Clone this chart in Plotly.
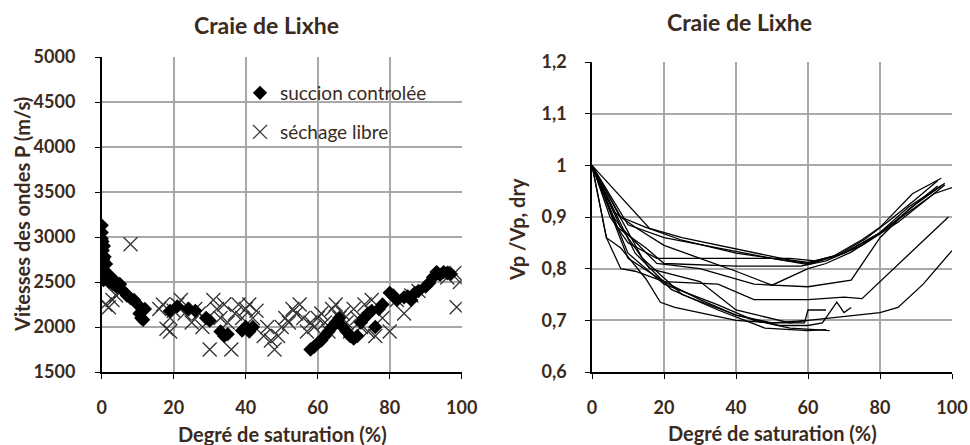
import plotly.graph_objects as go

# --- left chart: P-wave velocity vs degree of saturation ---
succion_x = [0, 0, 0, 0, 0, 0, 0, 0, 0, 0, 0.2, 0.3, 0.3, 0.4, 0.5, 0.5, 0.6, 0.7, 0.8, 1,
             1.2, 1.5, 2, 2.5, 3, 3.5, 4, 5, 6, 7, 8, 9, 10, 10.5, 11, 11.5, 12,
             19, 21, 24, 26, 29, 30, 33, 34, 35, 39, 40, 41, 42,
             58, 59, 60, 61, 62, 63, 64, 65, 66, 67, 68, 69, 70, 71, 72, 73, 74, 75, 76, 77, 78,
             80, 81, 82, 84, 85, 86, 87, 88, 90, 91, 92, 93, 94, 95, 96, 97]
succion_v = [3130, 3050, 2980, 2900, 2850, 2800, 2750, 2700, 2650, 2600, 2950, 2850, 2550, 2750,
             2680, 2520, 2900, 2600, 2780, 2550, 2700, 2600, 2500, 2550, 2480, 2520, 2450, 2480,
             2400, 2350, 2320, 2300, 2250, 2150, 2100, 2080, 2200,
             2180, 2230, 2200, 2180, 2100, 2070, 1950, 1900, 1920, 1960, 2000, 1950, 2000,
             1750, 1780, 1820, 1850, 1900, 1950, 2000, 2050, 2100, 2000, 1950, 1900, 1870, 1900,
             2050, 2100, 2150, 2180, 2000, 2200, 2250,
             2380, 2350, 2300, 2330, 2340, 2300, 2380, 2400, 2450, 2490, 2550, 2610, 2580, 2610,
             2600, 2590]

libre_x = [1, 2, 3, 4, 5, 8,
           16, 17, 18, 19, 19, 20, 21, 22, 23, 25, 26, 27, 28, 30, 31, 32, 33, 34, 35, 36, 37,
           38, 39, 40, 41, 42, 43, 45, 46, 47, 48, 49, 50, 51, 52, 53, 54, 55, 56, 57, 58, 59,
           60, 61, 62, 63, 64, 65, 66, 67, 68, 69, 70, 71, 72, 73, 74, 75, 76, 78, 80, 82, 84,
           86, 88, 95, 96, 98, 98.6, 99.5]
libre_v = [2250, 2220, 2300, 2350, 2400, 2920,
           2200, 2250, 1980, 1950, 2100, 2180, 2250, 2300, 2150, 2050, 2200, 2150, 2000, 1750,
           2300, 2200, 2100, 2250, 2050, 1750, 2150, 2250, 2100, 2200, 2250, 2100, 2180, 1900,
           2000, 1850, 1750, 1900, 2000, 2100, 2050, 2200, 2150, 2250, 2100, 1950, 2050, 2000,
           2100, 2150, 2050, 1950, 2200, 2250, 2100, 2150, 2050, 1950, 2200, 2100, 2000, 2250,
           1950, 2300, 1900, 2100, 1950, 2300, 2150, 2350, 2400, 2600, 2550, 2600, 2220, 2500]

# --- right chart: normalised velocity curves Vp / Vp,dry ---
curves = [
    ([0, 16, 25, 40, 54, 60, 67, 75, 80, 89, 97],
     [1, 0.878, 0.86, 0.838, 0.818, 0.812, 0.824, 0.856, 0.88, 0.945, 0.975]),
    ([0, 8, 15, 25, 40, 50, 60, 68, 76, 82, 90, 96],
     [1, 0.9, 0.88, 0.855, 0.83, 0.82, 0.808, 0.825, 0.858, 0.89, 0.935, 0.97]),
    ([0, 10, 20, 35, 50, 60, 70, 80, 88, 98],
     [1, 0.885, 0.86, 0.84, 0.82, 0.81, 0.83, 0.87, 0.92, 0.965]),
    ([0, 6, 12, 20, 30, 40, 50, 60, 65, 72, 80, 90, 97],
     [1, 0.91, 0.88, 0.845, 0.82, 0.795, 0.768, 0.8, 0.81, 0.832, 0.868, 0.925, 0.96]),
    ([0, 5, 10, 18, 40, 55, 62, 70, 78, 86, 95, 100],
     [1, 0.9, 0.85, 0.82, 0.82, 0.82, 0.815, 0.83, 0.86, 0.9, 0.945, 0.957]),
    ([0, 7, 15, 20, 40, 58, 65, 75, 85, 94, 98],
     [1, 0.88, 0.84, 0.81, 0.805, 0.805, 0.815, 0.845, 0.89, 0.94, 0.962]),
    ([0, 8, 18, 30, 45, 60, 72, 80, 88, 96],
     [1, 0.88, 0.81, 0.8, 0.77, 0.765, 0.778, 0.86, 0.915, 0.96]),
    ([0, 10, 20, 35, 45, 60, 70, 75, 99],
     [1, 0.82, 0.775, 0.77, 0.74, 0.74, 0.745, 0.742, 0.9]),
    ([0, 4, 8, 15, 19, 23, 40, 50, 60, 70, 80, 85, 92, 100],
     [1, 0.86, 0.84, 0.78, 0.735, 0.725, 0.7, 0.695, 0.7, 0.707, 0.715, 0.725, 0.77, 0.835]),
    ([0, 4, 8, 12, 20, 30, 40, 50, 59, 60, 65],
     [1, 0.86, 0.8, 0.795, 0.775, 0.74, 0.71, 0.695, 0.695, 0.72, 0.72]),
    ([0, 10, 20, 35, 45, 55, 62, 66],
     [1, 0.83, 0.77, 0.73, 0.7, 0.685, 0.682, 0.68]),
    ([0, 12, 22, 35, 48, 60, 65],
     [1, 0.83, 0.76, 0.72, 0.685, 0.68, 0.682]),
    ([0, 14, 25, 40, 52, 60, 64, 68, 70, 72],
     [1, 0.82, 0.75, 0.71, 0.69, 0.69, 0.695, 0.735, 0.715, 0.725]),
    ([0, 6, 16, 30, 40, 55, 60],
     [1, 0.9, 0.8, 0.775, 0.72, 0.695, 0.7]),
]

x_ticks = [0, 20, 40, 60, 80, 100]
right_y_ticks = [0.6, 0.7, 0.8, 0.9, 1.0, 1.1, 1.2]
right_y_labels = ["0,6", "0,7", "0,8", "0,9", "1", "1,1", "1,2"]

FONT = "Lato"
TXT = "#3a2a20"

W, H = 970, 445


def px(x):
    return x / W


def py(y):
    return 1 - y / H


fig = go.Figure()

fig.add_trace(go.Scatter(x=libre_x, y=libre_v, mode="markers", name="séchage libre",
                         marker=dict(symbol="x-thin", size=14,
                                     line=dict(color="#333333", width=1.3)),
                         legend="legend2", xaxis="x", yaxis="y"))
fig.add_trace(go.Scatter(x=succion_x, y=succion_v, mode="markers", name="succion controlée",
                         marker=dict(symbol="diamond", size=11, color="black"),
                         legend="legend", xaxis="x", yaxis="y"))

for cx, cy in curves:
    fig.add_trace(go.Scatter(x=cx, y=cy, mode="lines", showlegend=False,
                             line=dict(color="black", width=1.3),
                             xaxis="x2", yaxis="y2"))

axis_common = dict(showgrid=True, gridcolor="#a8a8a8", gridwidth=1.5,
                   showline=True, linecolor="black", linewidth=1.5,
                   ticks="outside", ticklen=5, tickcolor="black", tickwidth=1,
                   zeroline=False, automargin=False,
                   tickfont=dict(family=FONT, size=18, color=TXT, weight="bold"))

fig.update_layout(
    width=W, height=H,
    margin=dict(l=0, r=0, t=0, b=0),
    paper_bgcolor="white", plot_bgcolor="white",
    xaxis=dict(domain=[px(101.7), px(461.7)], range=[0, 100], tickvals=x_ticks,
               ticklabelstandoff=14, anchor="y", **axis_common),
    yaxis=dict(domain=[py(372), py(57)], range=[1500, 5000], dtick=500,
               ticklabelstandoff=16, anchor="x", **axis_common),
    xaxis2=dict(domain=[px(592), px(952)], range=[0, 100], tickvals=x_ticks,
                ticklabelstandoff=14, anchor="y2", **axis_common),
    yaxis2=dict(domain=[py(372), py(62)], range=[0.6, 1.2], tickvals=right_y_ticks,
                ticktext=right_y_labels, ticklabelstandoff=15, anchor="x2", **axis_common),
    legend=dict(x=px(240), y=py(93), xanchor="left", yanchor="middle",
                bgcolor="rgba(0,0,0,0)",
                font=dict(family=FONT, size=19, color=TXT)),
    legend2=dict(x=px(240), y=py(132), xanchor="left", yanchor="middle",
                 bgcolor="rgba(0,0,0,0)",
                 font=dict(family=FONT, size=19, color=TXT)),
)

title_font = dict(family=FONT, size=23, color=TXT, weight="bold")
label_font = dict(family=FONT, size=20, color=TXT, weight="bold")
ann = [
    ("Craie de Lixhe", 266, 25, title_font),
    ("Craie de Lixhe", 739, 22, title_font),
    ("Degré de saturation (%)", 282, 434, label_font),
    ("Degré de saturation (%)", 772, 433, label_font),
]
for text, ax, ay, f in ann:
    fig.add_annotation(text=text, xref="paper", yref="paper", x=px(ax), y=py(ay),
                       showarrow=False, xanchor="center", yanchor="middle", font=f)
fig.add_annotation(text="Vitesses des ondes P (m/s)", xref="paper", yref="paper",
                   x=px(22), y=py(215), textangle=-90, showarrow=False,
                   xanchor="center", yanchor="middle", font=label_font)
fig.add_annotation(text="Vp /Vp, dry", xref="paper", yref="paper",
                   x=px(517), y=py(230), textangle=-90, showarrow=False,
                   xanchor="center", yanchor="middle", font=label_font)

# drop the default 8px page margin so the figure fills the window exactly
fig.write_html("out.html", config={"displayModeBar": False},
               post_script="document.body.style.margin = '0';")
